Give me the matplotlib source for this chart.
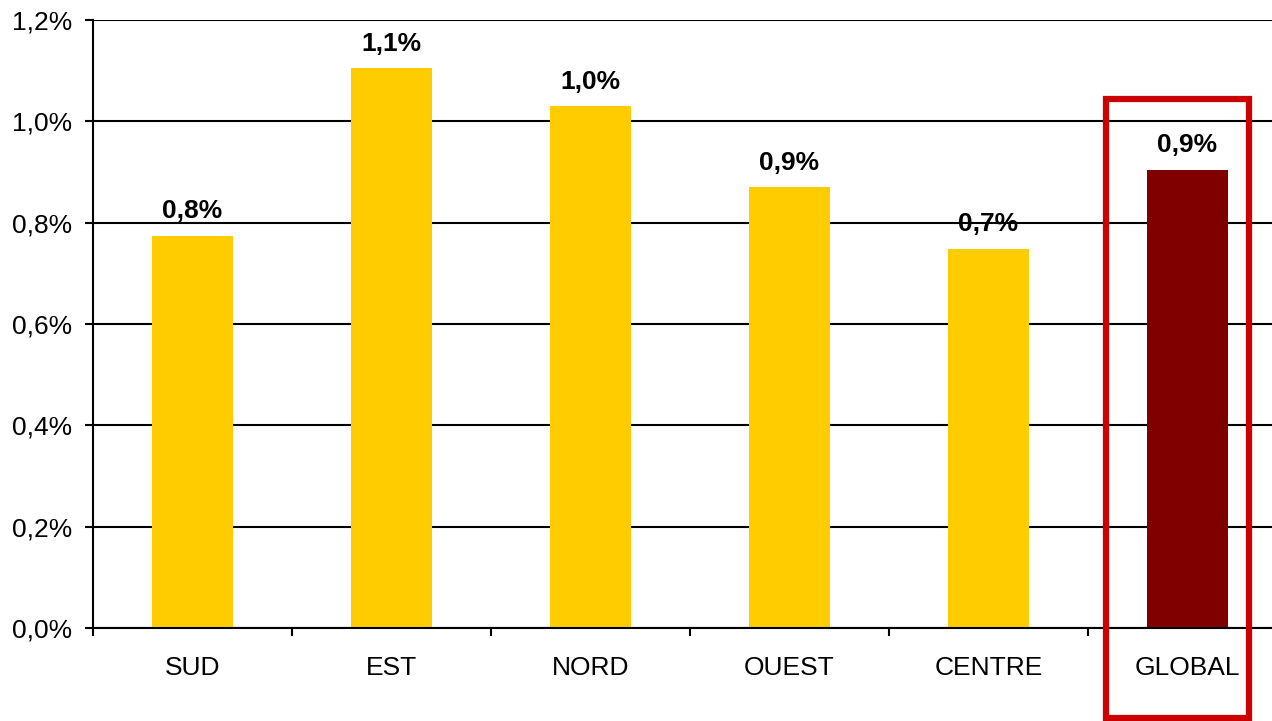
import matplotlib.pyplot as plt
from matplotlib.patches import Rectangle

plt.rcParams['font.family'] = ['Liberation Sans', 'DejaVu Sans']

regions = ["SUD", "EST", "NORD", "OUEST", "CENTRE", "GLOBAL"]
values = [0.774, 1.105, 1.030, 0.870, 0.748, 0.904]
labels = ["0,8%", "1,1%", "1,0%", "0,9%", "0,7%", "0,9%"]
colors = ["#FFCC00"] * 5 + ["#800000"]

fig = plt.figure(figsize=(12.72, 7.21), dpi=100)
ax = fig.add_axes([0.0731, 0.129, 0.9387, 0.8433])

x = range(len(regions))
ax.bar(x, values, width=0.405, color=colors, zorder=3)

for i, v in enumerate(values):
    ax.annotate(labels[i], (i, v), xytext=(0, 9), textcoords='offset points',
                ha='center', va='bottom', fontsize=19, fontweight='bold')

ax.set_xlim(-0.5, 5.5)
ax.set_ylim(0, 1.2)
yt = [0, 0.2, 0.4, 0.6, 0.8, 1.0, 1.2]
ax.set_yticks(yt)
ax.set_yticklabels([("%.1f%%" % t).replace(".", ",") for t in yt], fontsize=19)
ax.set_xticks(x)
ax.set_xticklabels(regions, fontsize=19)
ax.tick_params(axis='x', length=0, pad=20)
ax.set_xticks([i + 0.5 for i in range(-1, 5)], minor=True)
ax.tick_params(axis='x', which='minor', length=6, width=1.5, color='black', direction='out')
ax.tick_params(axis='y', length=6, width=1.5, pad=9)

ax.grid(axis='y', color='black', linewidth=1.5, zorder=1)
for s in ['top', 'right']:
    ax.spines[s].set_visible(False)
for s in ['left', 'bottom']:
    ax.spines[s].set_linewidth(1.5)
    ax.spines[s].set_zorder(4)

ax.add_patch(Rectangle((4.59, -0.178), 0.72, 1.222, fill=False, edgecolor='#CC0000',
                       linewidth=4.5, clip_on=False, zorder=5))

fig.savefig("out.png", dpi=100)
